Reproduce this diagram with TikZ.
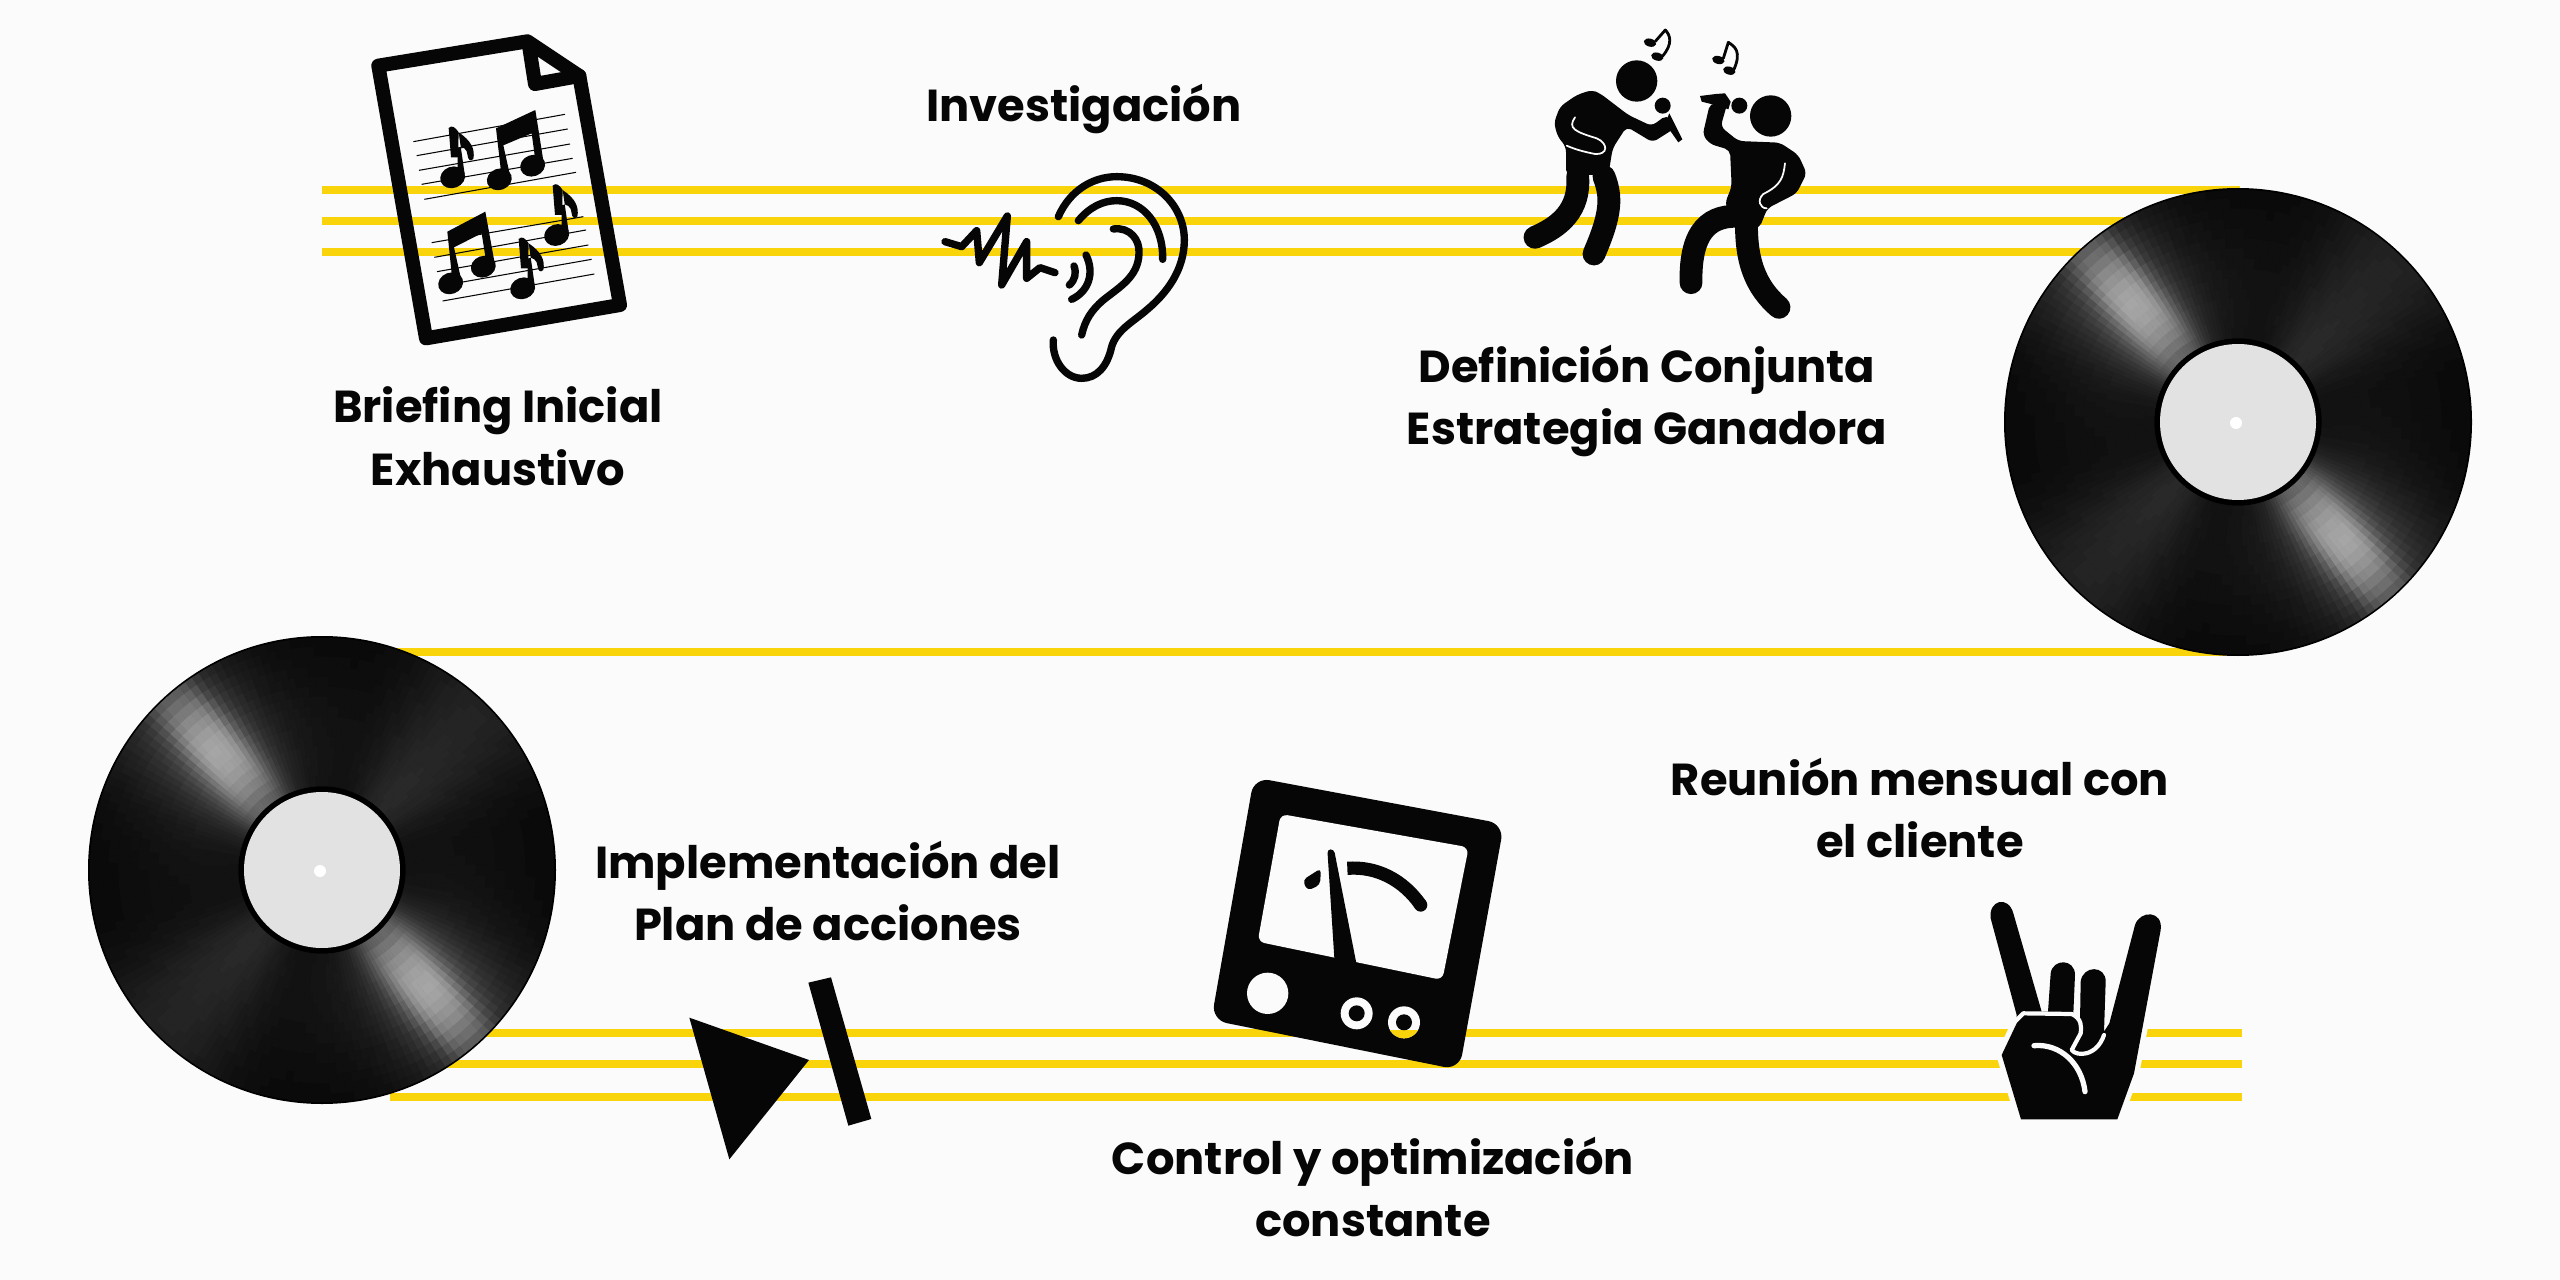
\documentclass[tikz,border=0pt]{standalone}
\usepackage{fontspec}
\setmainfont{Poppins}
\definecolor{paper}{HTML}{FBFBFC}
\definecolor{stripe}{HTML}{FAD40A}
\definecolor{labelgray}{HTML}{E2E2E2}
\definecolor{ink}{HTML}{060606}
\tikzset{
  x=0.02cm,y=-0.02cm,
  stripeline/.style={draw=stripe,line width=4.8pt},
  caption/.style={font=\bfseries\fontsize{25.5}{35.7}\selectfont,align=center,text=ink,inner sep=0pt},
  staffline/.style={draw=ink,line width=0.6pt},
  stroked/.style={draw=ink,line cap=round,line join=round},
  limb/.style={draw=ink,line cap=round,line width=13pt},
  disc/.pic={
    \fill[black] (0,0) circle (234);
    \foreach \a in {0,2,...,358}{
      \pgfmathsetmacro\aa{\a+2}
      \pgfmathsetmacro\dd{abs(Mod(\a+1-49+90,180)-90)}
      \pgfmathsetmacro\ss{sin(2*\a+2)*sin(2*\a+2)*sin(2*\a+2)*sin(2*\a+2)}
      \pgfmathsetmacro\sd{sin(\dd)}
      \foreach \ra/\rb in {84/94,94/104,104/114,114/124,124/134,134/144,144/154,154/164,164/174,174/184,184/194,194/204,204/214,214/224,224/232}{
        \pgfmathsetmacro\rf{0.4+0.6*sin((\ra+5-78)*1.154)}
        \pgfmathsetmacro\tt{\ra*\sd/26}
        \pgfmathsetmacro\uu{\ra*\sd/70}
        \pgfmathtruncatemacro\pp{100*min(0.7,0.035+0.10*\ss+(0.4/(1+\tt*\tt*\tt*\tt)+0.12/(1+\uu*\uu))*\rf)}
        \fill[white!\pp!black,draw=white!\pp!black,line width=0.3pt]
          (\a:\ra) -- (\aa:\ra) -- (\aa:\rb) -- (\a:\rb) -- cycle;
      }
    }
    \fill[labelgray] (0,0) circle (78);
    \fill[white] (-2,1) circle (6);
  }
}
% one eighth note: head, stem and flag around a head position
\newcommand{\eighthnote}[2]{%
  \begin{scope}[shift={(#1,#2)}]
    \fill[ink,rotate=20] (0,0) ellipse [x radius=38,y radius=32];
    \fill[ink] (14,-10) -- (36,-10) -- (18,-135)
      .. controls (55,-110) and (68,-85) .. (62,-55)
      .. controls (52,-45) and (46,-55) .. (45,-65)
      .. controls (44,-85) and (30,-95) .. (16,-90)
      -- (14,-10) -- cycle;
    \fill[ink] (-12,-148) .. controls (-2,-158) and (8,-150) .. (18,-135) -- (16,-60) -- (-5,-60) -- cycle;
  \end{scope}}
\begin{document}
\begin{tikzpicture}
\useasboundingbox (0,0) rectangle (2560,1280);
\fill[paper] (0,0) rectangle (2560,1280);

% staff stripes
\coordinate (topL1) at (322,190);  \coordinate (topR1) at (2240,190);
\coordinate (topL2) at (322,221);  \coordinate (topR2) at (2240,221);
\coordinate (topL3) at (322,252);  \coordinate (topR3) at (2240,252);
\coordinate (midL) at (390,652);   \coordinate (midR) at (2240,652);
\coordinate (lowL1) at (390,1033); \coordinate (lowR1) at (2242,1033);
\coordinate (lowL2) at (390,1064); \coordinate (lowR2) at (2242,1064);
\coordinate (lowL3) at (390,1097); \coordinate (lowR3) at (2242,1097);
\foreach \p/\q in {topL1/topR1,topL2/topR2,topL3/topR3,midL/midR,lowL1/lowR1,lowL2/lowR2,lowL3/lowR3}
  \draw[stripeline] (\p) -- (\q);

% records
\pic at (2238,422) {disc};
\pic at (322,870) {disc};

% sheet of music
\begin{scope}[shift={(300,0)},scale=1/3]
  \draw[stroked,line width=8pt,miter limit=2]
    (235,197) -- (682,124) -- (838,228) -- (960,915) -- (378,1015) -- cycle;
  \draw[stroked,line width=8pt] (686,130) -- (705,252) -- (838,228);
  \foreach \xa/\ya/\xb/\yb in {340/425/795/343,350/467/803/387,357/511/810/432,365/553/818/475,373/598/828/517,
                               395/728/850/650,403/772/858/690,411/815/865/735,420/858/875/778,428/903/883/822}
    \draw[staffline] (\xa,\ya) -- (\xb,\yb);
  \eighthnote{458}{532}
  \eighthnote{770}{705}
  \eighthnote{668}{865}
  % beamed pairs
  \fill[ink,rotate around={20:(598,538)}] (598,538) ellipse [x radius=38,y radius=32];
  \fill[ink,rotate around={20:(698,497)}] (698,497) ellipse [x radius=38,y radius=32];
  \fill[ink] (588,385) -- (706,330) -- (732,495) -- (708,495) -- (695,400) -- (610,436) -- (632,535) -- (606,540) -- cycle;
  \fill[ink,rotate around={20:(452,850)}] (452,850) ellipse [x radius=38,y radius=32];
  \fill[ink,rotate around={20:(550,800)}] (550,800) ellipse [x radius=38,y radius=32];
  \fill[ink] (442,695) -- (556,635) -- (585,795) -- (560,795) -- (545,700) -- (462,742) -- (486,850) -- (458,850) -- cycle;
\end{scope}

% ear and sound wave
\begin{scope}[shift={(900,130)},scale=1/3,stroked,line width=4.2pt]
  \draw (475,260) .. controls (510,180) and (580,140) .. (650,140)
    .. controls (770,140) and (853,230) .. (853,330)
    .. controls (853,420) and (800,490) .. (740,540)
    .. controls (700,575) and (650,600) .. (635,650)
    .. controls (622,710) and (590,745) .. (545,745)
    .. controls (495,745) and (455,690) .. (460,630);
  \draw (535,272) .. controls (570,230) and (610,212) .. (650,212)
    .. controls (730,212) and (790,285) .. (788,388);
  \draw (640,297) .. controls (690,290) and (720,330) .. (717,370)
    .. controls (715,440) and (660,470) .. (610,510)
    .. controls (575,540) and (555,570) .. (545,615);
  \draw (135,335) -- (185,350) -- (230,302) -- (238,398) -- (322,258) -- (305,465)
    -- (380,335) -- (380,445) -- (420,413) -- (465,428);
  \draw (558,375) .. controls (585,430) and (565,485) .. (515,508);
  \draw (522,408) .. controls (530,430) and (525,450) .. (508,465);
\end{scope}

% two singers
\begin{scope}[shift={(1480,0)},scale=1/3]
  \fill[ink] (470,243) circle (62);
  \fill[ink] (548,317) circle (24);
  \fill[ink] (568,340) -- (607,418) -- (595,427) -- (555,370) -- cycle;
  \fill[ink,rounded corners=3pt] (290,285) -- (335,270) -- (360,280) -- (445,345) -- (515,378) -- (560,345) -- (592,380) -- (518,427) -- (440,380)
    -- (398,445) -- (385,525) -- (258,525) -- (258,440) -- (233,410) -- (222,368) -- (240,320) -- cycle;
  \draw[limb] (372,530) .. controls (395,590) and (395,640) .. (342,762);
  \draw[limb] (293,530) .. controls (300,630) and (240,680) .. (165,712);
  \draw[paper,line width=1pt,line cap=round] (285,352) .. controls (262,385) and (285,395) .. (350,415)
    .. controls (385,430) and (385,465) .. (345,462) .. controls (310,455) and (285,448) .. (260,437);
  \fill[ink] (872,348) circle (62);
  \fill[ink] (778,317) circle (24);
  \fill[ink] (660,288) -- (708,282) -- (735,280) -- (752,305) -- (745,328) -- (718,318) -- (665,305) -- cycle;
  \fill[ink,rounded corners=3pt] (668,405) -- (690,310) -- (742,310) -- (722,380) -- (775,423) -- (900,428) -- (955,465)
    -- (980,520) -- (950,580) -- (862,625) -- (838,685) -- (765,685) -- (735,610) -- (755,560) -- (750,450) -- (690,432) -- cycle;
  \draw[limb] (790,650) .. controls (690,640) and (630,690) .. (633,848);
  \draw[limb] (800,650) .. controls (795,780) and (825,860) .. (897,922);
  \draw[paper,line width=1pt,line cap=round] (915,490) .. controls (910,530) and (905,555) .. (850,582)
    .. controls (830,600) and (840,625) .. (860,625);
  \fill[ink,rotate around={-15:(510,128)}] (510,128) ellipse [x radius=19,y radius=12];
  \fill[ink,rotate around={-15:(532,170)}] (532,170) ellipse [x radius=19,y radius=12];
  \draw[stroked,line width=1.6pt] (526,124) -- (556,90) .. controls (570,105) and (580,130) .. (548,168);
  \fill[ink,rotate around={-15:(715,180)}] (715,180) ellipse [x radius=19,y radius=12];
  \fill[ink,rotate around={-15:(748,212)}] (748,212) ellipse [x radius=19,y radius=12];
  \draw[stroked,line width=1.6pt] (730,175) -- (745,127) .. controls (765,140) and (785,155) .. (762,208);
\end{scope}

% play and pause marks
\begin{scope}[shift={(660,950)},scale=1/3]
  \fill[ink] (88,203) -- (447,330) -- (208,628) -- cycle;
  \fill[ink] (445,98) -- (513,82) -- (634,507) -- (565,527) -- cycle;
\end{scope}

% level meter
\begin{scope}[shift={(1190,760)},scale=1/3]
  \fill[ink,rounded corners=9pt] (192,52) -- (942,192) -- (808,930) -- (64,780) -- cycle;
  \fill[paper,rounded corners=4pt] (272,162) -- (836,262) -- (757,660) -- (203,545) -- cycle;
  \fill[ink,rounded corners=2pt] (412,268) -- (432,268) -- (502,625) -- (434,610) -- cycle;
  \fill[ink,rounded corners=2.5pt] (338,360) -- (393,325) -- (390,375) -- (352,392) -- cycle;
  \draw[ink,line width=7.5pt] (472,325) .. controls (560,318) and (640,360) .. (692,435);
  \fill[ink] (692,435) circle (20);
  \fill[paper] (233,700) circle (62);
  \fill[paper] (500,760) circle (48);
  \fill[ink] (500,760) circle (24);
  \fill[paper] (642,787) circle (48);
  \begin{scope}
    \clip (590,810) rectangle (700,840);
    \fill[stripe] (642,787) circle (48);
  \end{scope}
  \fill[ink] (642,787) circle (24);
\end{scope}

% horned hand
\begin{scope}[shift={(1960,880)},scale=1/3]
  \def\handoutline{(183,718) -- (125,525) -- (170,430) -- (170,405) -- (92,115)
    .. controls (85,60) and (145,45) .. (160,100) -- (245,395) -- (264,395) -- (272,280)
    .. controls (278,235) and (345,235) .. (345,285) -- (340,400) -- (360,425) -- (362,305)
    .. controls (368,255) and (438,255) .. (437,305) -- (432,455) -- (448,430) -- (525,135)
    .. controls (540,90) and (610,90) .. (602,150) -- (522,580) -- (472,718) -- cycle}
  \draw[paper,line width=6pt,line join=round] \handoutline;
  \fill[ink] \handoutline;
  \draw[paper,line width=2.4pt,line cap=round,line join=round]
    (165,425) -- (190,400) -- (335,402) .. controls (365,415) and (365,440) .. (362,460) -- (335,510)
    .. controls (350,530) and (410,530) .. (432,465);
  \draw[paper,line width=3pt,line cap=round]
    (222,497) .. controls (300,490) and (365,550) .. (375,635);
\end{scope}

% captions
\node[caption] (briefing) at (498,436) {Briefing Inicial\\Exhaustivo};
\node[caption] (research) at (1084,109) {Investigación};
\node[caption] (strategy) at (1647,401) {Definición Conjunta\\Estrategia Ganadora};
\node[caption] (plan) at (828,891) {Implementación del\\Plan de acciones};
\node[caption] (control) at (1373,1187) {Control y optimización\\constante};
\node[caption] (meeting) at (1920,808) {Reunión mensual con\\el cliente};
\end{tikzpicture}
\end{document}
